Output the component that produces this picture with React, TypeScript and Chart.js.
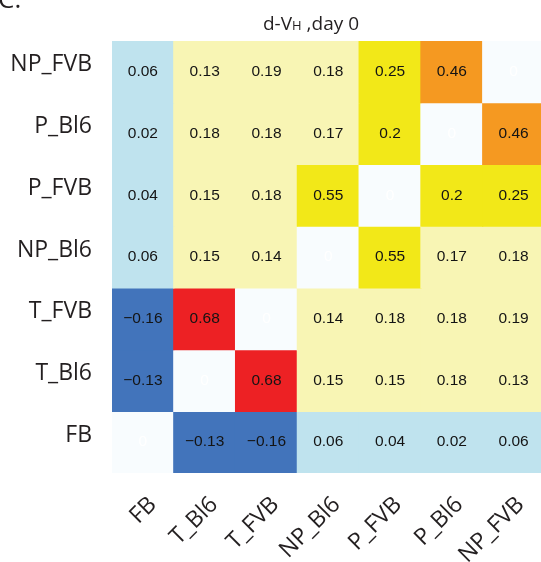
import React, { useEffect, useRef } from "react";
import { Chart, registerables } from "chart.js";

Chart.register(...registerables);

// Row labels, top to bottom
const rowLabels = ["NP_FVB", "P_Bl6", "P_FVB", "NP_Bl6", "T_FVB", "T_Bl6", "FB"];
// Column labels, left to right
const colLabels = ["FB", "T_Bl6", "T_FVB", "NP_Bl6", "P_FVB", "P_Bl6", "NP_FVB"];

// Cell values per row (columns in colLabels order)
const rowNP_FVB = [0.06, 0.13, 0.19, 0.18, 0.25, 0.46, 0];
const rowP_Bl6 = [0.02, 0.18, 0.18, 0.17, 0.2, 0, 0.46];
const rowP_FVB = [0.04, 0.15, 0.18, 0.55, 0, 0.2, 0.25];
const rowNP_Bl6 = [0.06, 0.15, 0.14, 0, 0.55, 0.17, 0.18];
const rowT_FVB = [-0.16, 0.68, 0, 0.14, 0.18, 0.18, 0.19];
const rowT_Bl6 = [-0.13, 0, 0.68, 0.15, 0.15, 0.18, 0.13];
const rowFB = [0, -0.13, -0.16, 0.06, 0.04, 0.02, 0.06];

const matrix = [rowNP_FVB, rowP_Bl6, rowP_FVB, rowNP_Bl6, rowT_FVB, rowT_Bl6, rowFB];

const titleMain = "d-V";
const titleSub = "H";
const titleRest = " ,day 0";
const panelLetter = "C.";

const LABEL_FONT = '"Open Sans", "Noto Sans", sans-serif';
const CELL_FONT = '"Liberation Sans", Arial, sans-serif';

function cellColor(v: number, isDiag: boolean): string {
  if (isDiag) return "rgb(248,252,254)";
  if (v < 0) return "rgb(66,116,187)";
  if (v < 0.1) return "rgb(191,227,238)";
  if (v < 0.2) return "rgb(248,245,180)";
  if (v < 0.3) return "rgb(242,232,24)";
  if (v < 0.5) return "rgb(245,153,33)";
  if (v < 0.6) return "rgb(242,232,24)";
  return "rgb(237,33,36)";
}

function fmt(v: number): string {
  const s = String(v);
  return s.replace("-", "\u2212");
}

const nRows = rowLabels.length;

const textPlugin = {
  id: "heatText",
  afterDatasetsDraw(chart: any) {
    const ctx = chart.ctx;
    const xScale = chart.scales.x;
    const yScale = chart.scales.y;
    const area = chart.chartArea;
    ctx.save();
    // cell values
    ctx.font = `15.5px ${CELL_FONT}`;
    ctx.textAlign = "center";
    ctx.textBaseline = "middle";
    matrix.forEach((row, r) => {
      const yIdx = nRows - 1 - r;
      row.forEach((v, c) => {
        const diag = rowLabels[r] === colLabels[c];
        const x = xScale.getPixelForValue(c);
        const y = yScale.getPixelForValue(yIdx);
        ctx.fillStyle = diag ? "#ffffff" : "#141414";
        ctx.fillText(fmt(v), x, y);
      });
    });
    // y labels
    ctx.font = `23px ${LABEL_FONT}`;
    ctx.fillStyle = "#231f20";
    ctx.textAlign = "right";
    ctx.textBaseline = "middle";
    rowLabels.forEach((lab, r) => {
      const yIdx = nRows - 1 - r;
      ctx.fillText(lab, area.left - 20, yScale.getPixelForValue(yIdx) - 7);
    });
    // x labels rotated
    colLabels.forEach((lab, c) => {
      const x = xScale.getPixelForValue(c) + 10 - c * 0.5;
      const y = area.bottom + 28;
      ctx.save();
      ctx.translate(x, y);
      ctx.rotate(-Math.PI / 4);
      ctx.textAlign = "right";
      ctx.textBaseline = "middle";
      ctx.fillText(lab, 0, 0);
      ctx.restore();
    });
    // title
    ctx.textBaseline = "alphabetic";
    ctx.textAlign = "left";
    const big = `19px ${LABEL_FONT}`;
    const small = `13px ${LABEL_FONT}`;
    ctx.font = big;
    const w1 = ctx.measureText(titleMain).width;
    const w3 = ctx.measureText(titleRest).width;
    ctx.font = small;
    const w2 = ctx.measureText(titleSub).width;
    const total = w1 + w2 + w3;
    let tx = 311 - total / 2;
    const ty = 30;
    ctx.fillStyle = "#231f20";
    ctx.font = big;
    ctx.fillText(titleMain, tx, ty);
    tx += w1;
    ctx.font = small;
    ctx.fillText(titleSub, tx, ty);
    tx += w2;
    ctx.font = big;
    ctx.fillText(titleRest, tx, ty);
    // panel letter
    ctx.font = `26px ${LABEL_FONT}`;
    ctx.fillText(panelLetter, -2, 8);
    ctx.restore();
  },
};

export default function App() {
  const ref = useRef<HTMLCanvasElement | null>(null);
  useEffect(() => {
    if (!ref.current) return;
    const datasets = matrix.map((row, r) => {
      const yIdx = nRows - 1 - r;
      return {
        label: rowLabels[r],
        data: row.map(() => [yIdx - 0.5, yIdx + 0.5]),
        backgroundColor: row.map((v, c) => cellColor(v, rowLabels[r] === colLabels[c])),
        borderWidth: 0,
        borderSkipped: false,
        inflateAmount: 0.6,
        grouped: false,
        barPercentage: 1,
        categoryPercentage: 1,
      };
    });
    const chart = new Chart(ref.current, {
      type: "bar",
      data: { labels: colLabels, datasets: datasets as any },
      options: {
        responsive: false,
        animation: false,
        devicePixelRatio: 1,
        layout: { padding: { left: 112, top: 41, right: 0.5, bottom: 89 } },
        plugins: { legend: { display: false }, tooltip: { enabled: false }, title: { display: false } },
        scales: {
          x: { type: "category", display: false, offset: true },
          y: { type: "linear", display: false, min: -0.5, max: 6.5 },
        },
      },
      plugins: [textPlugin],
    });
    return () => chart.destroy();
  }, []);
  return (
    <div style={{ position: "fixed", left: 0, top: 0, width: 541, height: 562, overflow: "hidden", background: "#fff" }}>
      <canvas ref={ref} width={545} height={562} style={{ display: "block", width: 545, height: 562 }} />
    </div>
  );
}
